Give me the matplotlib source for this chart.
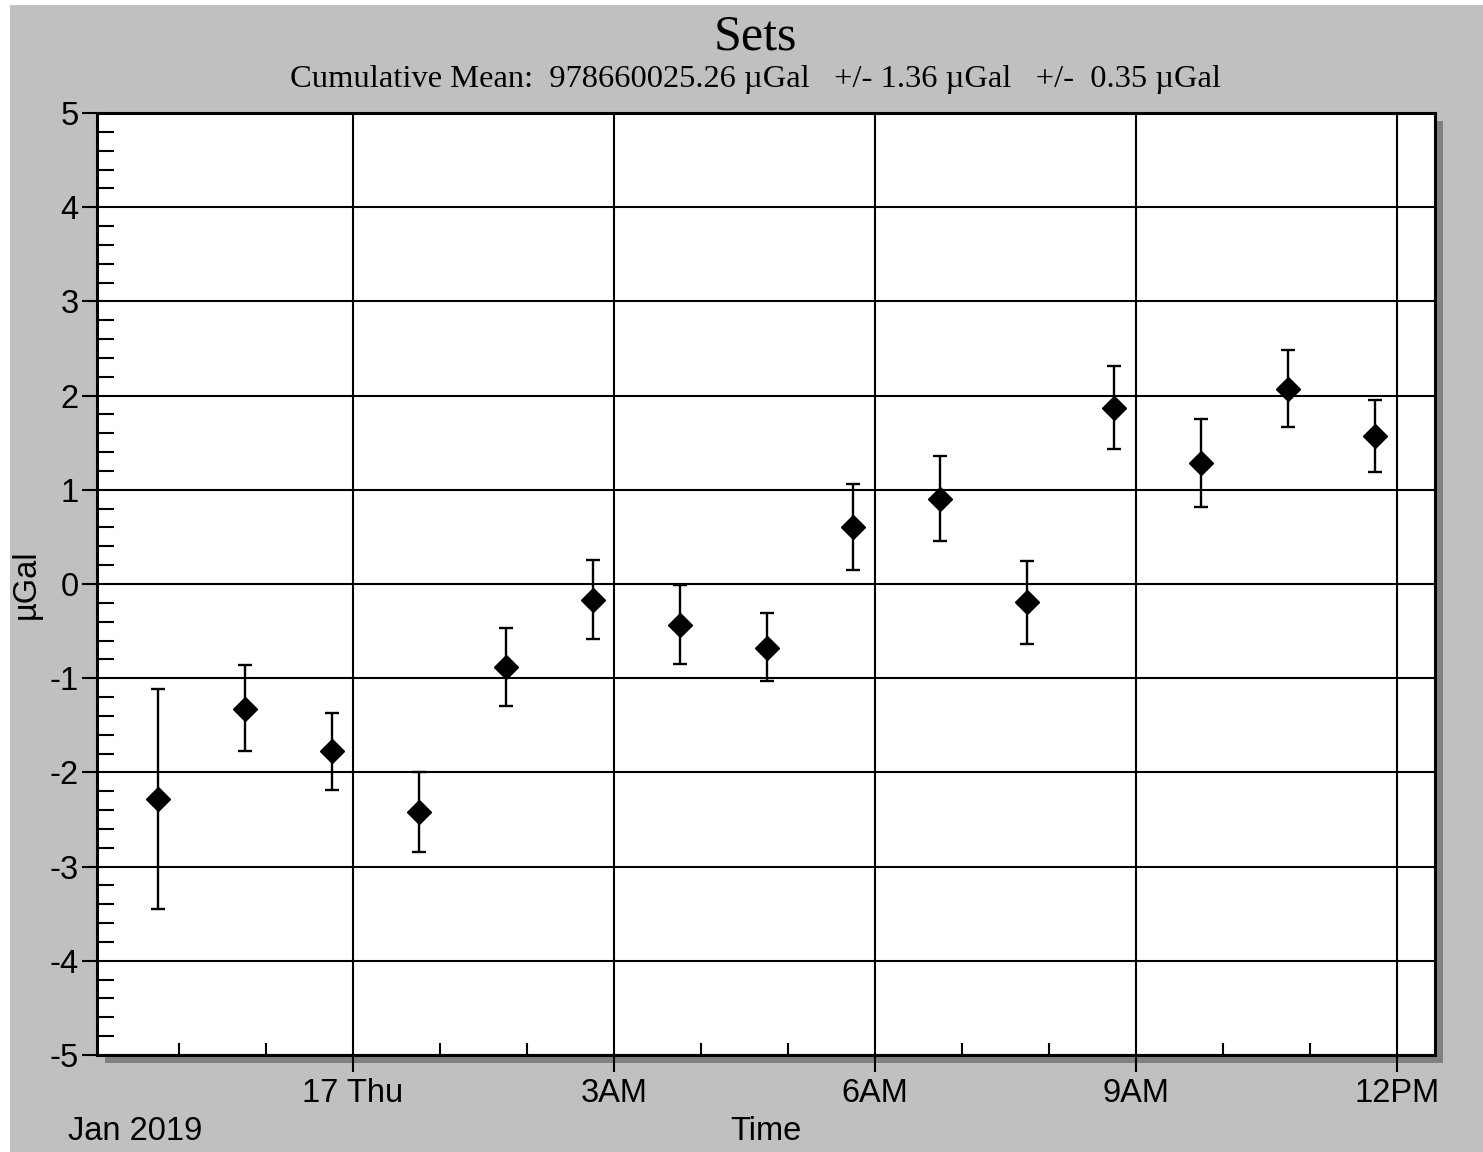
import numpy as np
import matplotlib
matplotlib.use("Agg")
import matplotlib.pyplot as plt
from matplotlib.patches import Rectangle
from matplotlib.ticker import MultipleLocator, FixedLocator

# saat cinsinden zaman (17 Ocak 00:00 = 0)
saat = [-2.24, -1.24, -0.24, 0.76, 1.76, 2.76, 3.76, 4.76,
        5.75, 6.75, 7.75, 8.75, 9.75, 10.75, 11.75]
deger = [-2.28, -1.33, -1.77, -2.42, -0.88, -0.17, -0.44, -0.68,
         0.61, 0.90, -0.19, 1.87, 1.28, 2.07, 1.57]
hata_ust = [-1.11, -0.86, -1.37, -2.00, -0.47, 0.25, -0.01, -0.31,
            1.06, 1.36, 0.24, 2.31, 1.75, 2.48, 1.95]
hata_alt = [-3.45, -1.77, -2.19, -2.85, -1.30, -0.58, -0.85, -1.03,
            0.15, 0.46, -0.64, 1.43, 0.82, 1.67, 1.19]

ana_saatler = [0, 3, 6, 9, 12]
ana_etiketler = ["17 Thu", "3AM", "6AM", "9AM", "12PM"]
ara_saatler = [-2, -1, 1, 2, 4, 5, 7, 8, 10, 11]

baslik = "Sets"
alt_baslik = "Cumulative Mean:  978660025.26 \u00b5Gal   +/- 1.36 \u00b5Gal   +/-  0.35 \u00b5Gal"

W, H = 1483, 1152
fig = plt.figure(figsize=(W / 100, H / 100), dpi=100)
fig.patch.set_facecolor("white")

# gri arka plan
fig.patches.append(Rectangle((10 / W, 0), 1 - 10 / W, 1 - 5 / H, transform=fig.transFigure,
                             facecolor="#c0c0c0", edgecolor="none", zorder=-10))

sol, sag, ust, alt = 97, 1435, 113, 1055
ax = fig.add_axes([sol / W, 1 - alt / H, (sag - sol) / W, (alt - ust) / H])

# gölge
fig.patches.append(Rectangle(((sol + 8) / W, 1 - (alt + 8) / H), (sag - sol) / W, (alt - ust) / H,
                             transform=fig.transFigure, facecolor="#808080",
                             edgecolor="none", zorder=-5))

ax.set_facecolor("white")
ax.set_xlim(-2.943, 12.437)
ax.set_ylim(-5, 5)

y = np.array(deger)
alt_hata = y - np.array(hata_alt)
ust_hata = np.array(hata_ust) - y
ax.errorbar(saat, deger, yerr=[alt_hata, ust_hata], fmt="D", color="black",
            markersize=12.5, elinewidth=1.7, capsize=4.8, capthick=1.7, zorder=5)

for s in ax.spines.values():
    s.set_linewidth(2.2)
    s.set_color("black")

ax.xaxis.set_major_locator(FixedLocator(ana_saatler))
ax.set_xticklabels(ana_etiketler)
ax.xaxis.set_minor_locator(FixedLocator(ara_saatler))
ax.yaxis.set_minor_locator(MultipleLocator(0.2))
ax.set_yticks(range(-5, 6))
ax.set_yticklabels([str(v) for v in range(-5, 6)])

ax.grid(True, which="major", color="black", linewidth=1.5)
ax.set_axisbelow(True)

etiket_font = dict(family="Liberation Sans", size=23.5)
ax.tick_params(axis="y", which="major", direction="out", length=11, width=1.5,
               labelsize=23.5, pad=2)
ax.tick_params(axis="y", which="minor", direction="in", length=12, width=1.5)
ax.tick_params(axis="x", which="major", direction="out", length=12.5, width=1.5,
               labelsize=23.5, pad=4)
ax.tick_params(axis="x", which="minor", direction="in", length=9, width=1.5)
for lab in ax.get_xticklabels() + ax.get_yticklabels():
    lab.set_family("Liberation Sans")

ax.set_ylabel("\u00b5Gal", fontdict=etiket_font, labelpad=6)
fig.text(766 / W, 1 - 1132 / H, "Time", ha="center", va="center", **etiket_font)
fig.text(68 / W, 1 - 1132 / H, "Jan 2019", ha="left", va="center", **etiket_font)

fig.text(755 / W, 1 - 37 / H, baslik, ha="center", va="center",
         family="Liberation Serif", size=36)
fig.text(755 / W, 1 - 80 / H, alt_baslik, ha="center", va="center",
         family="Liberation Serif", size=23.4)

fig.savefig("out.png", dpi=100, facecolor=fig.get_facecolor())
